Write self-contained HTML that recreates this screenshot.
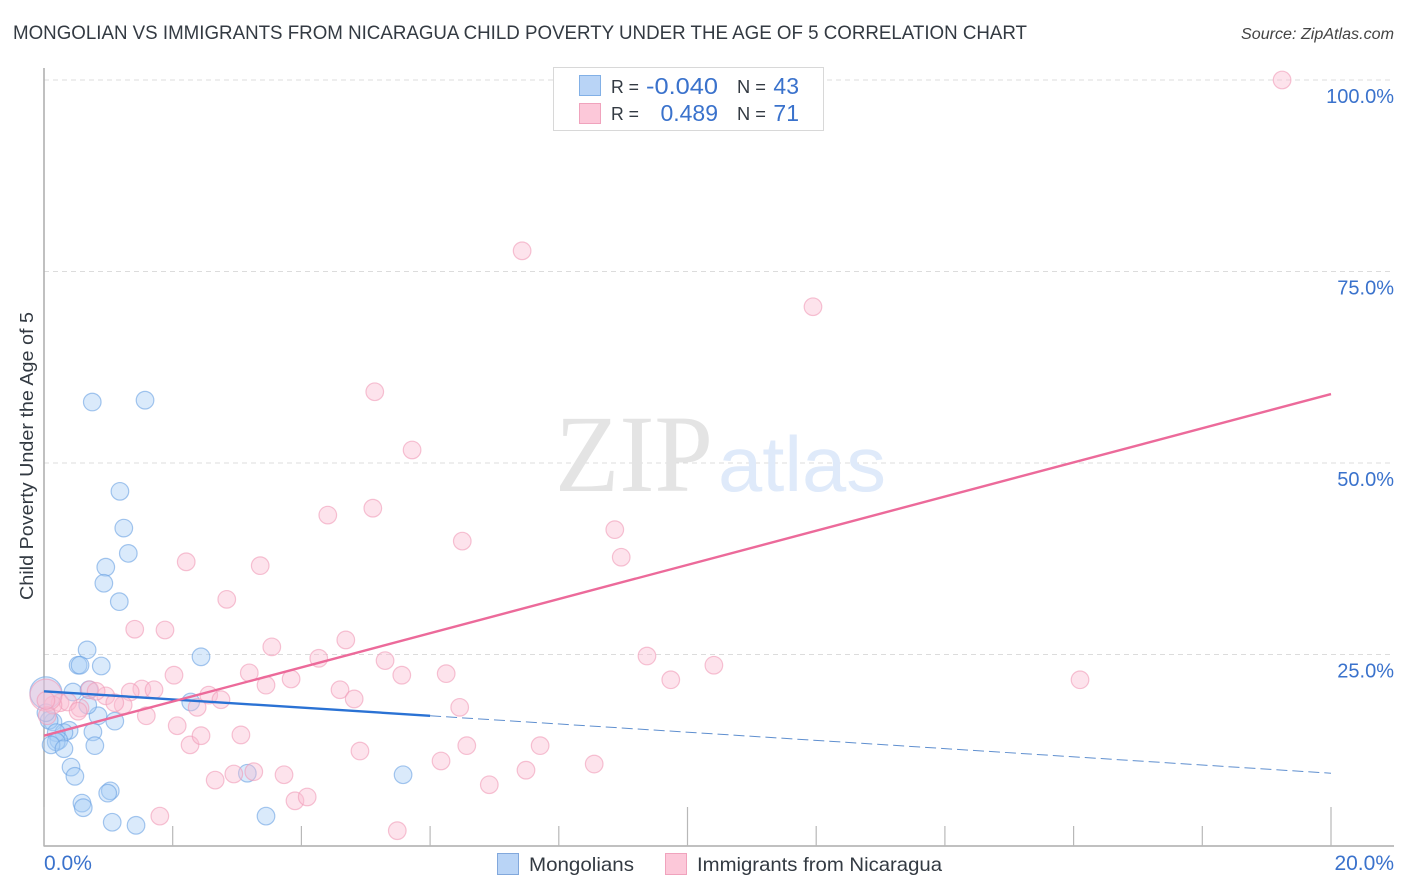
<!DOCTYPE html>
<html lang="en">
<head>
<meta charset="utf-8">
<title>Mongolian vs Immigrants from Nicaragua Child Poverty Correlation Chart</title>
<style>
html,body{margin:0;padding:0;background:#fff;width:1406px;height:892px;overflow:hidden}
svg{display:block;font-family:"Liberation Sans",sans-serif}
</style>
</head>
<body>
<svg id="chart" xmlns="http://www.w3.org/2000/svg" width="1406" height="892" viewBox="0 0 1406 892">
  <rect x="0" y="0" width="1406" height="892" fill="#ffffff"/>
  <text x="13" y="39" font-size="19.5" fill="#333a42" textLength="1014" lengthAdjust="spacingAndGlyphs">MONGOLIAN VS IMMIGRANTS FROM NICARAGUA CHILD POVERTY UNDER THE AGE OF 5 CORRELATION CHART</text>
  <text x="1241" y="39" font-size="15.5" font-style="italic" fill="#444" textLength="153" lengthAdjust="spacingAndGlyphs">Source: ZipAtlas.com</text>
  <g id="grid"></g>
  <text x="555" y="491" font-family="'Liberation Serif',serif" font-size="110" fill="#e4e4e4" textLength="158" lengthAdjust="spacingAndGlyphs">ZIP</text>
  <text x="718" y="491" font-size="78" fill="#dfeafa" textLength="168" lengthAdjust="spacingAndGlyphs">atlas</text>
  <g id="axes"></g>
  <g id="points-mongolian"></g>
  <g id="points-nicaragua"></g>
  <g id="trends"></g>
  <g id="labels"></g>
  <text transform="translate(33,456) rotate(-90)" font-size="18.5" fill="#333a42" text-anchor="middle" textLength="288" lengthAdjust="spacingAndGlyphs">Child Poverty Under the Age of 5</text>

  <g>
    <rect x="553.5" y="67.5" width="270" height="63" fill="#fff" stroke="#d8d8d8" stroke-width="1"/>
    <rect x="579.5" y="75.5" width="21" height="20" fill="#b9d4f6" stroke="#82b0e6"/>
    <rect x="579.5" y="103.5" width="21" height="20" fill="#fcc8d9" stroke="#f0a3bd"/>
    <text x="611" y="93" font-size="18.5" fill="#333a42" textLength="28" lengthAdjust="spacingAndGlyphs">R =</text>
    <text x="646" y="94" font-size="23" fill="#3a72cc" textLength="72" lengthAdjust="spacingAndGlyphs">-0.040</text>
    <text x="737" y="93" font-size="18.5" fill="#333a42" textLength="29" lengthAdjust="spacingAndGlyphs">N =</text>
    <text x="799" y="94" font-size="23" fill="#3a72cc" text-anchor="end">43</text>
    <text x="611" y="120" font-size="18.5" fill="#333a42" textLength="28" lengthAdjust="spacingAndGlyphs">R =</text>
    <text x="718" y="121" font-size="23" fill="#3a72cc" text-anchor="end">0.489</text>
    <text x="737" y="120" font-size="18.5" fill="#333a42" textLength="29" lengthAdjust="spacingAndGlyphs">N =</text>
    <text x="799" y="121" font-size="23" fill="#3a72cc" text-anchor="end">71</text>
  </g>

  <g>
    <rect x="497.5" y="853.5" width="21" height="21" fill="#b9d4f6" stroke="#82a8dc"/>
    <text x="529" y="871" font-size="19.5" fill="#333a42" textLength="105" lengthAdjust="spacingAndGlyphs">Mongolians</text>
    <rect x="665.5" y="853.5" width="21" height="21" fill="#fcc8d9" stroke="#f0a3bd"/>
    <text x="697" y="871" font-size="19.5" fill="#333a42" textLength="245" lengthAdjust="spacingAndGlyphs">Immigrants from Nicaragua</text>
  </g>
</svg>
<script>
// Chart data (x: percent Mongolian, y: child poverty percent)
var mongolianX = [0.03,0.45,0.70,0.84,1.10,0.68,0.76,0.79,0.14,0.08,0.03,0.39,0.31,0.19,0.23,0.19,0.11,0.31,0.75,1.57,1.18,1.24,1.31,0.96,0.93,1.17,0.67,2.44,0.53,0.56,0.89,0.42,0.48,0.59,0.61,1.03,0.99,1.06,1.43,3.16,3.45,5.58,2.28];
var mongolianY = [20.0,20.1,20.4,17.0,16.3,18.4,14.9,13.1,16.2,16.4,17.4,15.1,14.8,14.8,13.8,13.6,13.2,12.7,57.96,58.2,46.3,41.5,38.2,36.4,34.3,31.9,25.6,24.7,23.6,23.6,23.5,10.3,9.1,5.6,5.0,7.2,6.9,3.1,2.7,9.5,3.9,9.3,18.8];
var mongolianLargeIndex = [0];
var nicaraguaX = [19.24,7.43,11.95,5.14,5.72,5.11,4.41,8.87,6.50,8.97,2.21,3.36,2.84,1.41,1.88,3.54,4.69,9.37,4.27,5.30,10.41,3.19,2.02,6.25,5.56,9.74,16.10,3.84,3.45,4.60,4.82,1.52,1.71,1.34,2.56,2.75,2.38,6.46,0.96,0.71,0.81,1.23,1.10,0.56,0.25,0.37,0.14,0.03,1.59,2.07,2.27,2.44,3.06,4.91,6.57,7.71,6.17,7.49,8.55,3.26,2.95,2.66,3.73,6.92,3.90,4.09,1.80,5.49,0.05,0.53,0.03];
var nicaraguaY = [100,77.7,70.4,59.3,51.7,44.1,43.2,41.3,39.8,37.7,37.1,36.6,32.2,28.3,28.2,26.0,26.9,24.8,24.5,24.2,23.6,22.6,22.3,22.5,22.3,21.7,21.7,21.8,21.0,20.4,19.2,20.5,20.4,20.1,19.7,19.1,18.1,18.1,19.6,20.4,20.2,18.4,18.7,18.0,18.7,18.8,18.4,19.7,17.0,15.7,13.2,14.4,14.5,12.4,13.1,13.1,11.1,9.9,10.7,9.7,9.4,8.6,9.3,8.0,5.9,6.4,3.9,2.0,17.0,17.6,19.0];
var nicaraguaLargeIndex = [47];
var mongolianTrendX = [0,6,20];
var mongolianTrendY = [20.2,17.0,9.5];
var nicaraguaTrendX = [0,20];
var nicaraguaTrendY = [14.4,59.0];
var yTickValues = [25,50,75,100];
var yTickLabels = ["25.0%","50.0%","75.0%","100.0%"];
var xTickValues = [0,2,4,6,8,10,12,14,16,18,20];
var xEndLabels = ["0.0%","20.0%"];

function xScale(v){ return 44 + v * 64.35; }
function yScale(v){ return 846 - v * 7.66; }
var NS = "http://www.w3.org/2000/svg";
function mk(parent, tag, attrs, text){
  var el = document.createElementNS(NS, tag);
  for (var k in attrs) el.setAttribute(k, attrs[k]);
  if (text !== undefined) el.textContent = text;
  parent.appendChild(el);
  return el;
}

var grid = document.getElementById("grid");
yTickValues.forEach(function(v){
  var l = mk(grid, "line", {x1:44, x2:1394, y1:yScale(v), y2:yScale(v), stroke:"#dcdcdc", "stroke-width":1, "stroke-dasharray":"5 4"});
  
  
});

var axes = document.getElementById("axes");
var yAxis = mk(axes, "line", {x1:44, x2:44, y1:68, y2:846.5, stroke:"#ababab", "stroke-width":1.5});


var xAxis = mk(axes, "line", {x1:44, x2:1394, y1:846, y2:846, stroke:"#ababab", "stroke-width":1.5});


xTickValues.forEach(function(v){
  var len = (v % 10 === 0) ? 39 : 20;
  var t = mk(axes, "line", {x1:xScale(v), x2:xScale(v), y1:846-len, y2:846, stroke:"#b8b8b8", "stroke-width":1.2});
  
  
});

function drawPoints(groupId, xs, ys, large, fill, stroke, name){
  var g = document.getElementById(groupId);
  xs.forEach(function(x, i){
    var r = large.indexOf(i) >= 0 ? 16 : 8.8;
    var c = mk(g, "circle", {cx:xScale(x), cy:yScale(ys[i]), r:r, fill:fill, "fill-opacity":0.42, stroke:stroke, "stroke-opacity":0.6, "stroke-width":1.2});
    
    
  });
}
drawPoints("points-mongolian", mongolianX, mongolianY, mongolianLargeIndex, "#a8ccf5", "#6aa2e2", "mongolians-point");
drawPoints("points-nicaragua", nicaraguaX, nicaraguaY, nicaraguaLargeIndex, "#fabdd1", "#f09bb8", "nicaragua-point");

var trends = document.getElementById("trends");
var bs = mk(trends, "line", {x1:xScale(mongolianTrendX[0]), y1:yScale(mongolianTrendY[0]), x2:xScale(mongolianTrendX[1]), y2:yScale(mongolianTrendY[1]), stroke:"#2a72d4", "stroke-width":2.4});


var bd = mk(trends, "line", {x1:xScale(mongolianTrendX[1]), y1:yScale(mongolianTrendY[1]), x2:xScale(mongolianTrendX[2]), y2:yScale(mongolianTrendY[2]), stroke:"#5f8fcf", "stroke-width":1, "stroke-dasharray":"11 5"});


var ps = mk(trends, "line", {x1:xScale(nicaraguaTrendX[0]), y1:yScale(nicaraguaTrendY[0]), x2:xScale(nicaraguaTrendX[1]), y2:yScale(nicaraguaTrendY[1]), stroke:"#ec6a9a", "stroke-width":2.4});



var labels = document.getElementById("labels");
yTickValues.forEach(function(v, i){
  var t = mk(labels, "text", {x:1394, y:yScale(v)+23, "font-size":20, fill:"#3a72cc", "text-anchor":"end"}, yTickLabels[i]);
  
  
});
var x0 = mk(labels, "text", {x:44, y:870, "font-size":21, fill:"#3a72cc"}, xEndLabels[0]);


var x1 = mk(labels, "text", {x:1394, y:870, "font-size":21, fill:"#3a72cc", "text-anchor":"end"}, xEndLabels[1]);


</script>
</body>
</html>
